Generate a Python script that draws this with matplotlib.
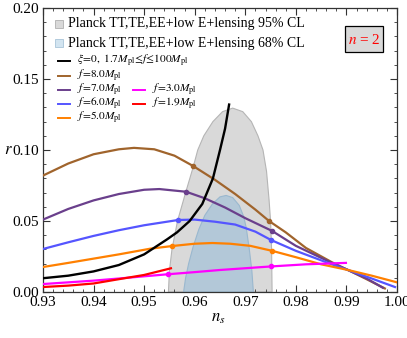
import matplotlib

matplotlib.use("Agg")
import matplotlib.pyplot as plt
from matplotlib.patches import Polygon, Rectangle
from matplotlib.lines import Line2D
from matplotlib.ticker import MultipleLocator, FormatStrFormatter

plt.rcParams["font.family"] = ["Liberation Serif", "DejaVu Serif"]
plt.rcParams["mathtext.fontset"] = "stix"

# Planck contours (ns, r)
cl95_ns = [0.9548, 0.9550, 0.9555, 0.9566, 0.9582, 0.9597, 0.9606, 0.9618, 0.9636, 0.9655,
           0.9675, 0.9695, 0.9712, 0.9725, 0.9735, 0.9742, 0.9747, 0.9750, 0.9752, 0.9753]
cl95_r = [0.0, 0.015, 0.03, 0.05, 0.07, 0.088, 0.10, 0.11, 0.12, 0.127,
          0.1295, 0.127, 0.12, 0.11, 0.10, 0.085, 0.065, 0.05, 0.03, 0.0]
cl68_ns = [0.9578, 0.9582, 0.9588, 0.9597, 0.9608, 0.9620, 0.9635, 0.9650, 0.9662,
           0.9675, 0.9688, 0.9697, 0.9702, 0.9708, 0.9713, 0.9716]
cl68_r = [0.0, 0.01, 0.02, 0.032, 0.044, 0.054, 0.062, 0.067, 0.068,
          0.0665, 0.061, 0.053, 0.045, 0.03, 0.015, 0.0]

# xi = 0 curve
xi0_ns = [0.930, 0.935, 0.940, 0.945, 0.950, 0.9545, 0.9565, 0.959, 0.9615, 0.9636, 0.965, 0.966, 0.9668]
xi0_r = [0.0097, 0.0115, 0.0145, 0.019, 0.0265, 0.037, 0.042, 0.050, 0.062, 0.080, 0.100, 0.115, 0.132]

f8_ns = [0.930, 0.935, 0.940, 0.945, 0.948, 0.952, 0.956, 0.9597, 0.964, 0.968, 0.972,
         0.9747, 0.978, 0.982, 0.9871, 0.9903, 0.994, 0.9976]
f8_r = [0.082, 0.0905, 0.097, 0.1005, 0.1015, 0.1005, 0.096, 0.0887, 0.079, 0.069, 0.058,
        0.050, 0.042, 0.031, 0.021, 0.0155, 0.009, 0.0025]
f7_ns = [0.930, 0.935, 0.940, 0.945, 0.950, 0.953, 0.9583, 0.962, 0.966, 0.970, 0.9753,
         0.980, 0.9871, 0.9903, 0.994, 0.9972]
f7_r = [0.051, 0.0585, 0.0645, 0.069, 0.072, 0.0725, 0.0706, 0.066, 0.0595, 0.052, 0.043,
        0.0325, 0.0205, 0.0155, 0.0095, 0.003]
f6_ns = [0.930, 0.935, 0.940, 0.945, 0.950, 0.9567, 0.960, 0.964, 0.968, 0.972, 0.9751,
         0.980, 0.9871, 0.9903, 0.995, 0.9996]
f6_r = [0.0303, 0.035, 0.0395, 0.0435, 0.047, 0.0507, 0.051, 0.0495, 0.0475, 0.0425, 0.0366,
        0.029, 0.0195, 0.0155, 0.0095, 0.0035]
f5_ns = [0.930, 0.935, 0.940, 0.945, 0.9512, 0.9556, 0.960, 0.9635, 0.967, 0.971, 0.9753,
         0.980, 0.985, 0.9903, 0.995, 1.000]
f5_r = [0.0176, 0.0205, 0.0235, 0.0265, 0.0305, 0.0324, 0.034, 0.0345, 0.034, 0.0325, 0.029,
        0.0245, 0.0195, 0.0155, 0.0115, 0.0068]
f3_ns = [0.930, 0.935, 0.940, 0.945, 0.9547, 0.960, 0.965, 0.9751, 0.982, 0.9899]
f3_r = [0.0056, 0.0068, 0.008, 0.0095, 0.0125, 0.014, 0.0155, 0.018, 0.0195, 0.0205]
f19_ns = [0.930, 0.935, 0.940, 0.9458, 0.950, 0.9553]
f19_r = [0.0035, 0.0045, 0.006, 0.0095, 0.012, 0.0167]

# points where the f-curves cross the 95% CL edges
mark_ns = {"8.0": [0.9597, 0.9747], "7.0": [0.9583, 0.9753], "6.0": [0.9567, 0.9751],
           "5.0": [0.9556, 0.9753], "3.0": [0.9547, 0.9751]}
mark_r = {"8.0": [0.0887, 0.050], "7.0": [0.0706, 0.043], "6.0": [0.0507, 0.0366],
          "5.0": [0.0324, 0.029], "3.0": [0.0125, 0.018]}

colors = {"8.0": "#a0642c", "7.0": "#6a3f8c", "6.0": "#5555ff", "5.0": "#ff8000",
          "3.0": "#ff00ff", "1.9": "#ff0000"}

W, H = 407, 338
fig = plt.figure(figsize=(W / 100, H / 100), dpi=100)
ax = fig.add_axes([43 / W, 1 - 292 / H, 354 / W, 284 / H])


def px(x, y):
    return x / W, 1 - y / H


ax.add_patch(Polygon(list(zip(cl95_ns, cl95_r)), closed=True, fc="#d9d9d9", ec="#b5b5b5", lw=0.8, zorder=1))
ax.add_patch(Polygon(list(zip(cl68_ns, cl68_r)), closed=True, fc="#b3c8d8", ec="#9ab8cf", lw=0.8, zorder=2))

ax.plot(xi0_ns, xi0_r, color="black", lw=1.7, zorder=5)
curves = [("8.0", f8_ns, f8_r), ("7.0", f7_ns, f7_r), ("6.0", f6_ns, f6_r),
          ("5.0", f5_ns, f5_r), ("3.0", f3_ns, f3_r), ("1.9", f19_ns, f19_r)]
for key, xs, ys in curves:
    ax.plot(xs, ys, color=colors[key], lw=1.6, zorder=4)
    if key in mark_ns:
        ax.plot(mark_ns[key], mark_r[key], "o", ms=3, color=colors[key], zorder=6)

ax.set_xlim(0.93, 1.0)
ax.set_ylim(0.0, 0.20)
ax.xaxis.set_major_locator(MultipleLocator(0.01))
ax.xaxis.set_minor_locator(MultipleLocator(0.002))
ax.yaxis.set_major_locator(MultipleLocator(0.05))
ax.yaxis.set_minor_locator(MultipleLocator(0.01))
ax.xaxis.set_major_formatter(FormatStrFormatter("%.2f"))
ax.yaxis.set_major_formatter(FormatStrFormatter("%.2f"))
ax.tick_params(which="both", direction="in", top=True, right=True, labelsize=11, color="#333333")
ax.tick_params(which="major", length=5, width=0.8, pad=3)
ax.tick_params(which="minor", length=2.5, width=0.6)
for s in ax.spines.values():
    s.set_color("#333333")
    s.set_linewidth(0.9)

fig.text(*px(8, 150), r"$r$", fontsize=12, ha="center", va="center")
fig.text(*px(218, 318), r"$n_s$", fontsize=12, ha="center", va="center")

# legend, drawn by hand
for y, fc, ec, lab in [(24, "#d9d9d9", "#b0b0b0", "Planck TT,TE,EE+low E+lensing 95% CL"),
                       (43, "#d2e4f0", "#a8c4d8", "Planck TT,TE,EE+low E+lensing 68% CL")]:
    x0, y0 = px(55, y + 4)
    fig.add_artist(Rectangle((x0, y0), 8 / W, 8 / H, transform=fig.transFigure, fc=fc, ec=ec, lw=0.6))
    fig.text(*px(68, y), lab, fontsize=10, va="center", ha="left")

entries = [(58, 61, "black", r"$\xi\!=\!0,\ 1.7M_{\rm pl}\!\leq\! f\!\leq\!100M_{\rm pl}$"),
           (58, 76, colors["8.0"], r"$f\!=\!8.0M_{\rm pl}$"),
           (58, 90, colors["7.0"], r"$f\!=\!7.0M_{\rm pl}$"),
           (58, 104, colors["6.0"], r"$f\!=\!6.0M_{\rm pl}$"),
           (58, 118, colors["5.0"], r"$f\!=\!5.0M_{\rm pl}$"),
           (133, 90, colors["3.0"], r"$f\!=\!3.0M_{\rm pl}$"),
           (133, 104, colors["1.9"], r"$f\!=\!1.9M_{\rm pl}$")]
for x, y, c, lab in entries:
    (a, b), (c2, _) = px(x, y), px(x + 12, y)
    fig.add_artist(Line2D([a, c2], [b, b], transform=fig.transFigure, color=c, lw=1.4))
    fig.text(*px(x + 19, y), lab, fontsize=8.2, va="center", ha="left")

bx, by = px(345, 52)
fig.add_artist(Rectangle((bx, by), 38 / W, 26 / H, transform=fig.transFigure, fc="#d9d9d9", ec="black", lw=0.9))
fig.text(*px(364, 39.5), r"$n$ = 2", fontsize=11, color="red", ha="center", va="center")

fig.savefig("out.png", dpi=100)
